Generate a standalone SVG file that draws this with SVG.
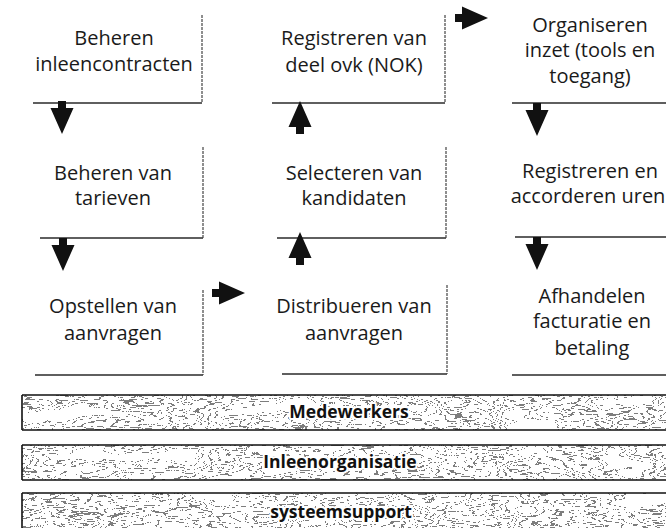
<svg xmlns="http://www.w3.org/2000/svg" xmlns:xlink="http://www.w3.org/1999/xlink" width="666" height="528" viewBox="0 0 666 528">
  <style>
    .lbl { font-family: "Open Sans", "DejaVu Sans", sans-serif; font-size: 20px; fill: #1a1a1a; text-anchor: middle; }
    .edge { stroke: #2a2a2a; stroke-width: 1.3; fill: none; }
    .vedge { stroke: #444; stroke-width: 1.2; stroke-dasharray: 3 1; fill: none; }
    .arrow { fill: #111; }
    .band { fill: #fff; filter: url(#tex); }
    .bandline { stroke: #111; stroke-width: 1.6; fill: none; }
    .blbl { font-family: "Open Sans", "DejaVu Sans", sans-serif; font-size: 17.5px; font-weight: bold; fill: #111; text-anchor: middle; stroke: #fff; stroke-width: 4; paint-order: stroke; stroke-linejoin: round; }
  </style>
  <defs>
    <path id="arr" d="M0,-4 H7 V-11.5 L33,0 L7,11.5 V4 H0 Z"/>
    <filter id="tex" x="0" y="0" width="1" height="1" color-interpolation-filters="sRGB">
      <feTurbulence type="fractalNoise" baseFrequency="0.012 0.045" numOctaves="4" seed="5" result="n"/>
      <feColorMatrix in="n" type="matrix" values="0 0 0 0 0  0 0 0 0 0  0 0 0 0 0  1 0 0 0 0" result="a"/>
      <feComponentTransfer in="a" result="lines">
        <feFuncA type="discrete" tableValues="0 0 0 0 0 0 0 0 0 0 0 0 0 0 0 0 0 0 0 0 0 0 0 0 0 0 0 0 0.85 0 0 0 0 0 0.85 0 0 0 0 0 0.85 0 0 0 0 0 0.85 0 0 0 0 0 0.85 0 0 0 0 0 0.85 0 0 0 0 0 0 0 0 0 0 0 0 0 0 0 0 0 0 0"/>
      </feComponentTransfer>
      <feFlood flood-color="#666"/>
      <feComposite in2="lines" operator="in" result="g"/>
      <feMerge><feMergeNode in="SourceGraphic"/><feMergeNode in="g"/></feMerge>
    </filter>
  </defs>

  <rect width="666" height="528" fill="#fff"/>

  <!-- Row 1 -->
  <g id="node-beheren-inleencontracten">
    <path class="edge" d="M33,103 H202"/>
    <path class="vedge" d="M202,15 V103"/>
    <text class="lbl" x="114" y="45">Beheren</text>
    <text class="lbl" x="114" y="71">inleencontracten</text>
  </g>
  <g id="node-registreren-deel-ovk">
    <path class="edge" d="M272,103 H445"/>
    <path class="vedge" d="M445,15 V103"/>
    <text class="lbl" x="354" y="45">Registreren van</text>
    <text class="lbl" x="354" y="72">deel ovk (NOK)</text>
  </g>
  <g id="node-organiseren-inzet">
    <path class="edge" d="M512,103 H666"/>
    <text class="lbl" x="590" y="32">Organiseren</text>
    <text class="lbl" x="590" y="57">inzet (tools en</text>
    <text class="lbl" x="590" y="83">toegang)</text>
  </g>

  <!-- Row 2 -->
  <g id="node-beheren-tarieven">
    <path class="edge" d="M40,238 H203"/>
    <path class="vedge" d="M203,147 V238"/>
    <text class="lbl" x="113" y="180">Beheren van</text>
    <text class="lbl" x="113" y="205">tarieven</text>
  </g>
  <g id="node-selecteren-kandidaten">
    <path class="edge" d="M277,238 H446"/>
    <path class="vedge" d="M446,147 V238"/>
    <text class="lbl" x="354" y="180">Selecteren van</text>
    <text class="lbl" x="354" y="205">kandidaten</text>
  </g>
  <g id="node-registreren-accorderen">
    <path class="edge" d="M515,237 H666"/>
    <text class="lbl" x="590" y="178">Registreren en</text>
    <text class="lbl" x="588" y="203">accorderen uren</text>
  </g>

  <!-- Row 3 -->
  <g id="node-opstellen-aanvragen">
    <path class="edge" d="M35,375 H203"/>
    <path class="vedge" d="M203,290 V375"/>
    <text class="lbl" x="113" y="313">Opstellen van</text>
    <text class="lbl" x="113" y="340">aanvragen</text>
  </g>
  <g id="node-distribueren-aanvragen">
    <path class="edge" d="M282,374 H447"/>
    <path class="vedge" d="M447,285 V374"/>
    <text class="lbl" x="354" y="313">Distribueren van</text>
    <text class="lbl" x="354" y="340">aanvragen</text>
  </g>
  <g id="node-afhandelen-facturatie">
    <path class="edge" d="M512,375 H666"/>
    <text class="lbl" x="592" y="303">Afhandelen</text>
    <text class="lbl" x="592" y="328">facturatie en</text>
    <text class="lbl" x="592" y="355">betaling</text>
  </g>

  <!-- Connectors -->
  <g id="connectors" class="arrow">
    <use xlink:href="#arr" transform="translate(62,101) rotate(90)"/>
    <use xlink:href="#arr" transform="translate(63,238) rotate(90)"/>
    <use xlink:href="#arr" transform="translate(537,103) rotate(90)"/>
    <use xlink:href="#arr" transform="translate(537,237) rotate(90)"/>
    <use xlink:href="#arr" transform="translate(300,134) rotate(-90)"/>
    <use xlink:href="#arr" transform="translate(300,265) rotate(-90)"/>
    <use xlink:href="#arr" transform="translate(455,18)"/>
    <use xlink:href="#arr" transform="translate(212,293)"/>
  </g>

  <!-- Bands -->
  <g id="band-medewerkers">
    <rect class="band" x="22" y="395" width="644" height="35"/>
    <path class="bandline" d="M22,395 H666 M22,430 H666 M22,395 V430"/>
    <text class="blbl" x="349" y="418">Medewerkers</text>
  </g>
  <g id="band-inleenorganisatie">
    <rect class="band" x="22" y="445" width="644" height="35"/>
    <path class="bandline" d="M22,445 H666 M22,480 H666 M22,445 V480"/>
    <text class="blbl" x="340" y="468">Inleenorganisatie</text>
  </g>
  <g id="band-systeemsupport">
    <rect class="band" x="22" y="493" width="644" height="40"/>
    <path class="bandline" d="M22,493 H666 M22,493 V528"/>
    <text class="blbl" x="341" y="518">systeemsupport</text>
  </g>
</svg>
